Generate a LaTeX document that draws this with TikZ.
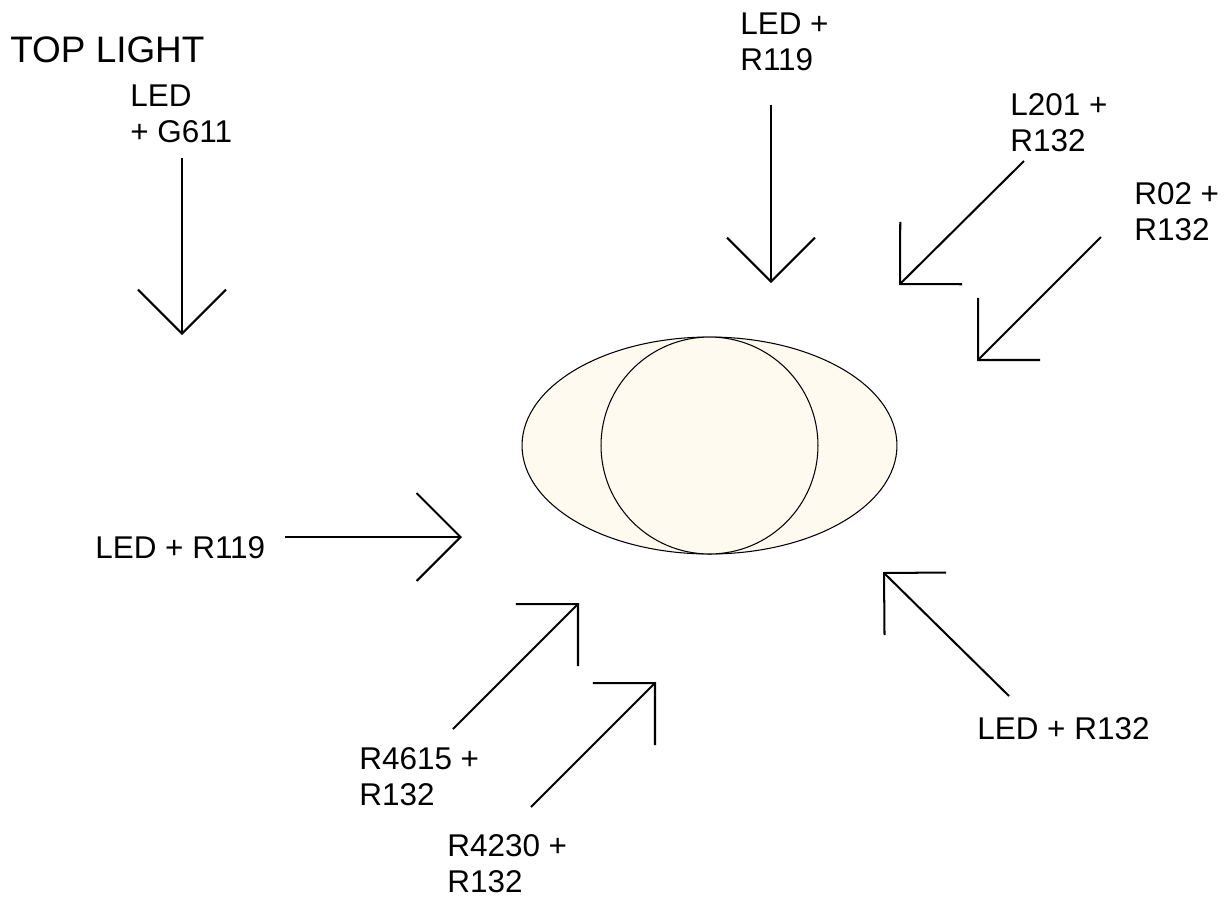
\documentclass[tikz,border=0pt]{standalone}
\usepackage{fontspec}
\setmainfont{Liberation Sans}
\usetikzlibrary{arrows.meta}
\definecolor{lampada}{RGB}{255,250,240}
\tikzset{
    freccia/.style={line width=1.15pt,-{Straight Barb[length=0.88cm,width=1.76cm]}},
    etichetta/.style={anchor=north west,inner sep=0pt,align=left,font=\fontsize{17.9}{20.4}\selectfont},
}

\begin{document}
\begin{tikzpicture}[x=0.02cm,y=-0.02cm]
    \useasboundingbox (0,0) rectangle (1225,897);

    % Lampada vista dall'alto
    \coordinate (C) at (709.5,445.5);
    \filldraw[fill=lampada,line width=0.6pt] (C) ellipse [x radius=3.75cm,y radius=2.17cm];
    \filldraw[fill=lampada,line width=0.6pt] (C) circle (2.17cm);

    % Punti di partenza e di arrivo delle frecce
    \coordinate (T1) at (182,158);   \coordinate (P1) at (182,335);
    \coordinate (T2) at (771,105);   \coordinate (P2) at (771,283);
    \coordinate (T3) at (1024,161);  \coordinate (P3) at (899,285);
    \coordinate (T4) at (1101,237);  \coordinate (P4) at (977,361);
    \coordinate (T5) at (285,537);   \coordinate (P5) at (462,537);
    \coordinate (T6) at (453,729);   \coordinate (P6) at (579,603);
    \coordinate (T7) at (531,807);   \coordinate (P7) at (656,682);
    \coordinate (T8) at (1009,696);  \coordinate (P8) at (883,572);

    % Etichette dei filtri
    \node[etichetta,font=\fontsize{21}{25}\selectfont] (titolo) at (10,36) {TOP LIGHT};
    \node[etichetta] (L1) at (130,85) {LED\\+ G611};
    \node[etichetta] (L2) at (740,13) {LED +\\R119};
    \node[etichetta] (L3) at (1010,93) {L201 +\\R132};
    \node[etichetta] (L4) at (1134,182) {R02 +\\R132};
    \node[etichetta] (L5) at (95,536) {LED + R119};
    \node[etichetta] (L6) at (359,747) {R4615 +\\R132};
    \node[etichetta] (L7) at (447,834) {R4230 +\\R132};
    \node[etichetta] (L8) at (977,717) {LED + R132};

    % Direzioni della luce
    \draw[freccia] (T1) -- (P1);
    \draw[freccia] (T2) -- (P2);
    \draw[freccia] (T3) -- (P3);
    \draw[freccia] (T4) -- (P4);
    \draw[freccia] (T5) -- (P5);
    \draw[freccia] (T6) -- (P6);
    \draw[freccia] (T7) -- (P7);
    \draw[freccia] (T8) -- (P8);
\end{tikzpicture}
\end{document}
